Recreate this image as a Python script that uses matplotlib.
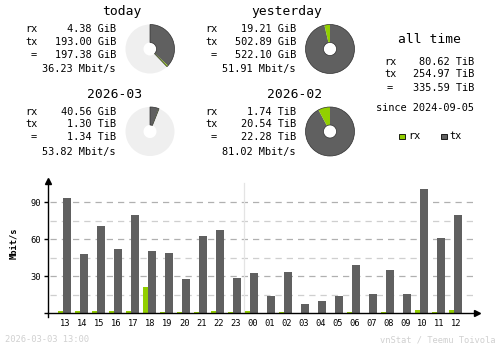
import matplotlib
matplotlib.use("Agg")
import matplotlib.pyplot as plt
from matplotlib.patches import Wedge, Rectangle

# --- datos ---
periods = ["today", "yesterday", "2026-03", "2026-02"]
period_rx = [4.38, 19.21, 40.56, 1.74]
period_rx_unit = ["GiB", "GiB", "GiB", "TiB"]
period_tx = [193.00, 502.89, 1.30, 20.54]
period_tx_unit = ["GiB", "GiB", "TiB", "TiB"]
period_total = [197.38, 522.10, 1.34, 22.28]
period_total_unit = ["GiB", "GiB", "TiB", "TiB"]
period_rate = [36.23, 51.91, 53.82, 81.02]

alltime_rx = 80.62
alltime_tx = 254.97
alltime_total = 335.59
alltime_since = "2024-09-05"

hours = ["13", "14", "15", "16", "17", "18", "19", "20", "21", "22", "23",
         "00", "01", "02", "03", "04", "05", "06", "07", "08", "09", "10", "11", "12"]
rx_rate = [1.9, 1.6, 1.6, 1.6, 1.6, 21.3, 1.0, 1.0, 1.0, 1.6, 1.0, 1.6,
           0.3, 1.0, 0.3, 0.3, 0.3, 1.0, 0.3, 1.0, 0.3, 2.7, 1.0, 2.7]
tx_rate = [93.5, 48.1, 70.8, 52.1, 79.7, 50.5, 49.0, 27.8, 62.7, 67.6, 28.6,
           32.7, 14.0, 33.5, 7.6, 10.0, 14.0, 39.2, 15.7, 35.1, 15.7, 100.8, 61.1, 79.7]

RX = "#92cf00"
TX = "#606060"
MONO = "DejaVu Sans Mono"
H = 348


def gib(v, unit):
    return v * 1024 if unit == "TiB" else v


fig = plt.figure(figsize=(5, 3.48), dpi=100)
ov = fig.add_axes([0, 0, 1, 1])
ov.set_xlim(0, 500)
ov.set_ylim(0, H)
ov.axis("off")


def txt(x, y, s, size=7.4, ha="left", color="black", **kw):
    ov.text(x, H - y, s, ha=ha, va="center", fontsize=size, family=MONO, color=color, **kw)


# bloques de resumen (today / yesterday / meses)
offsets = [(0, 0), (180, 0), (0, 82.5), (180, 82.5)]
refs = [1, 1, 3, 3]
for k, name in enumerate(periods):
    dx, dy = offsets[k]
    txt(142 + dx, 11.5 + dy, name, size=9.4, ha="right")
    txt(25 + dx, 29.3 + dy, "rx")
    txt(25 + dx, 41.7 + dy, "tx")
    txt(31 + dx, 55 + dy, "=")
    txt(116 + dx, 29.3 + dy, "%.2f %s" % (period_rx[k], period_rx_unit[k]), ha="right")
    txt(116 + dx, 41.7 + dy, "%.2f %s" % (period_tx[k], period_tx_unit[k]), ha="right")
    txt(116 + dx, 55 + dy, "%.2f %s" % (period_total[k], period_total_unit[k]), ha="right")
    txt(116 + dx, 69 + dy, "%.2f Mbit/s" % period_rate[k], ha="right")

    # dona
    cx, cy = 150 + dx, H - (49 + dy)
    r, w = 24.5, 18
    rx_g = gib(period_rx[k], period_rx_unit[k])
    tx_g = gib(period_tx[k], period_tx_unit[k])
    tot = rx_g + tx_g
    ref = gib(period_total[refs[k]], period_total_unit[refs[k]])
    fill = min(1.0, tot / max(tot, ref))
    a_tx = 360 * fill * tx_g / tot
    a_rx = 360 * fill * rx_g / tot
    ov.add_patch(Wedge((cx, cy), r, 0, 360, width=w, facecolor="#efefef", edgecolor="none"))
    ov.add_patch(Wedge((cx, cy), r, 90 - a_tx, 90, width=w, facecolor=TX, edgecolor="none"))
    ov.add_patch(Wedge((cx, cy), r, 90 - a_tx - a_rx, 90 - a_tx, width=w, facecolor=RX, edgecolor="none"))
    ov.add_patch(Wedge((cx, cy), r, 90 - a_tx - a_rx, 90, width=w, facecolor="none",
                       edgecolor="#303030", linewidth=0.5))

# all time
txt(429, 39.5, "all time", size=9.4, ha="center")
txt(384, 61.7, "rx")
txt(384, 74, "tx")
txt(387, 87.7, "=")
txt(474, 61.7, "%.2f TiB" % alltime_rx, ha="right")
txt(474, 74, "%.2f TiB" % alltime_tx, ha="right")
txt(474, 87.7, "%.2f TiB" % alltime_total, ha="right")
txt(474, 107.7, "since " + alltime_since, ha="right")

ov.add_patch(Rectangle((399, H - 139), 5.5, 5.5, facecolor=RX, edgecolor="black", linewidth=0.6))
txt(408, 136.3, "rx")
ov.add_patch(Rectangle((441, H - 139), 5.5, 5.5, facecolor=TX, edgecolor="black", linewidth=0.6))
txt(449, 136.3, "tx")

# pie de pagina
txt(5, 340, "2026-03-03 13:00", size=6.3, color="#d0d0d0")
txt(495, 340, "vnStat / Teemu Toivola", size=6.3, ha="right", color="#d0d0d0")

# --- grafico de barras por hora ---
x0, x1 = 48.3, 476.7
base, top = 313.3, 181
step = 17.0
c0 = 65.3
scale = 111 / 90.0
ylo = -3.3 / scale
ax = fig.add_axes([x0 / 500, (H - base - 3.3) / H, (x1 - x0) / 500, (base + 3.3 - top) / H])
ax.set_xlim((x0 - c0) / step, (x1 - c0) / step)
ax.set_ylim(ylo, (base - top) / scale)
ax.patch.set_alpha(0)

idx = list(range(len(hours)))
for v in [15, 45, 75]:
    ax.plot([-0.9, 23.98], [v, v], color="#cfcfcf", lw=0.9, dashes=(5, 4), zorder=1)
for v in [30, 60, 90]:
    ax.plot([-0.9, 23.98], [v, v], color="#b0b0b0", lw=0.9, dashes=(5, 4), zorder=1)
ax.plot([10.5, 10.5], [0, 106], color="#e4e4e4", lw=0.9, zorder=1)

ax.bar([i - 0.28 for i in idx], rx_rate, width=0.3, color=RX, zorder=2)
ax.bar([i + 0.11 for i in idx], tx_rate, width=0.46, color=TX, zorder=2)

for s in ["top", "right"]:
    ax.spines[s].set_visible(False)
ax.spines["bottom"].set_position(("data", 0))
ax.spines["left"].set_linewidth(1.0)
ax.spines["bottom"].set_linewidth(1.0)
ax.plot(0, 1, marker="^", color="black", ms=4, transform=ax.transAxes, clip_on=False)
ax.plot(1, 0, marker=">", color="black", ms=4, transform=ax.get_yaxis_transform(), clip_on=False)

ax.set_yticks([0, 30, 60, 90])
ax.set_yticklabels(["", "30", "60", "90"], family=MONO, fontsize=6.3)
ax.tick_params(axis="y", length=3, width=1.0, pad=2)
ax.set_xticks(idx)
ax.set_xticklabels(hours, family=MONO, fontsize=6.3)
ax.tick_params(axis="x", length=0, pad=4)
txt(14, 243, "Mbit/s", size=6.3, ha="center", rotation=90, weight="bold")

fig.savefig("out.png", dpi=100)
